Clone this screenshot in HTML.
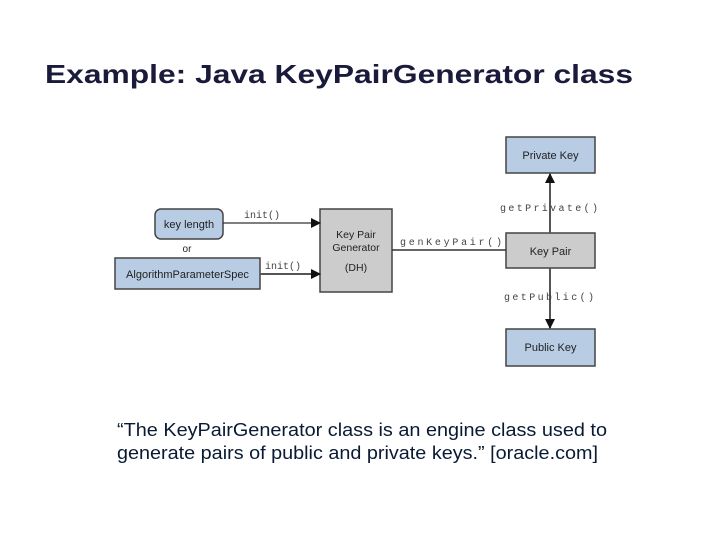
<!DOCTYPE html>
<html><head><meta charset="utf-8"><style>
html,body{margin:0;padding:0;background:#fff;}
svg{display:block;}
</style></head><body>
<svg width="720" height="540" viewBox="0 0 720 540" xmlns="http://www.w3.org/2000/svg" font-family="Liberation Sans, Arial, sans-serif">
<text x="45" y="83" font-size="26" font-weight="bold" fill="#1a1a3a" textLength="588" lengthAdjust="spacingAndGlyphs">Example: Java KeyPairGenerator class</text>

<defs>
<marker id="ar" markerWidth="10" markerHeight="10" refX="9" refY="5" orient="auto" markerUnits="userSpaceOnUse">
<path d="M0,0 L10,5 L0,10 Z" fill="#111"/>
</marker>
</defs>

<!-- boxes -->
<rect x="506" y="137" width="89" height="36" fill="#b8cce4" stroke="#444" stroke-width="1.5"/>
<text x="550.5" y="159" font-size="11" text-anchor="middle" fill="#222">Private Key</text>

<rect x="155" y="209" width="68" height="30" rx="6" fill="#b8cce4" stroke="#444" stroke-width="1.5"/>
<text x="189" y="228" font-size="11" text-anchor="middle" fill="#222">key length</text>
<text x="187" y="252" font-size="10" text-anchor="middle" fill="#222">or</text>

<rect x="115" y="258" width="145" height="31" fill="#b8cce4" stroke="#444" stroke-width="1.5"/>
<text x="187.5" y="278" font-size="11" text-anchor="middle" fill="#222">AlgorithmParameterSpec</text>

<rect x="320" y="209" width="72" height="83" fill="#cccccc" stroke="#444" stroke-width="1.5"/>
<text x="356" y="238" font-size="10.5" text-anchor="middle" fill="#222">Key Pair</text>
<text x="356" y="251" font-size="10.5" text-anchor="middle" fill="#222">Generator</text>
<text x="356" y="271" font-size="10.5" text-anchor="middle" fill="#222">(DH)</text>

<rect x="506" y="233" width="89" height="35" fill="#cccccc" stroke="#444" stroke-width="1.5"/>
<text x="550.5" y="255" font-size="11" text-anchor="middle" fill="#222">Key Pair</text>

<rect x="506" y="329" width="89" height="37" fill="#b8cce4" stroke="#444" stroke-width="1.5"/>
<text x="550.5" y="351" font-size="11" text-anchor="middle" fill="#222">Public Key</text>

<!-- connectors -->
<line x1="223" y1="223" x2="320" y2="223" stroke="#333" stroke-width="1.2" marker-end="url(#ar)"/>
<text x="244" y="218" font-size="10" font-family="Liberation Mono, monospace" fill="#444">init()</text>
<line x1="260" y1="274" x2="320" y2="274" stroke="#555" stroke-width="2" marker-end="url(#ar)"/>
<text x="265" y="269" font-size="10" font-family="Liberation Mono, monospace" fill="#444">init()</text>

<line x1="392" y1="250" x2="506" y2="250" stroke="#333" stroke-width="1.5"/>
<text x="400" y="245" font-size="10" font-family="Liberation Mono, monospace" fill="#444" textLength="102">genKeyPair()</text>

<line x1="550" y1="233" x2="550" y2="174" stroke="#555" stroke-width="2" marker-end="url(#ar)"/>
<text x="500" y="211" font-size="10" font-family="Liberation Mono, monospace" fill="#444" textLength="98">getPrivate()</text>
<line x1="550" y1="268" x2="550" y2="328" stroke="#555" stroke-width="2" marker-end="url(#ar)"/>
<text x="504" y="300" font-size="10" font-family="Liberation Mono, monospace" fill="#444" textLength="90">getPublic()</text>

<text x="117" y="436" font-size="18" fill="#0a1a33" textLength="490" lengthAdjust="spacingAndGlyphs">“The KeyPairGenerator class is an engine class used to</text>
<text x="117" y="459" font-size="18" fill="#0a1a33" textLength="481" lengthAdjust="spacingAndGlyphs">generate pairs of public and private keys.” [oracle.com]</text>
</svg>
</body></html>
